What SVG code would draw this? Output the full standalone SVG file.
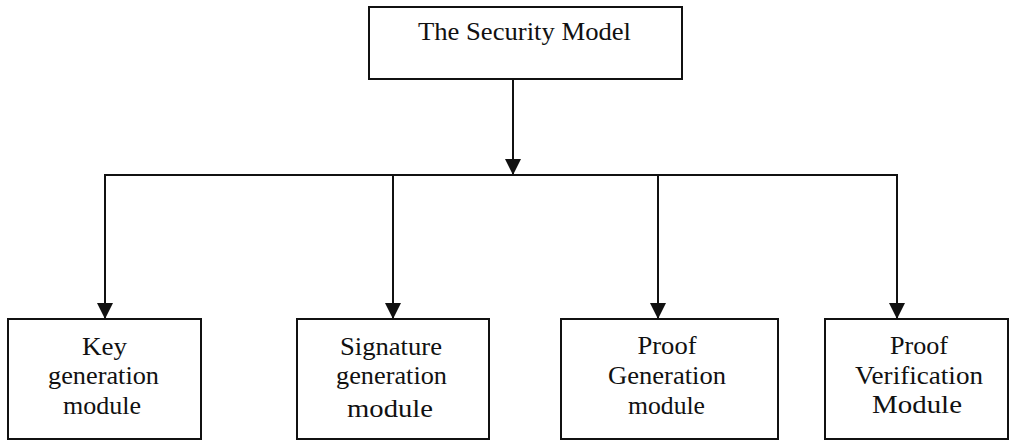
<svg xmlns="http://www.w3.org/2000/svg" width="1009" height="441" viewBox="0 0 1009 441">
<style>
.box{fill:#fff;stroke:#111;stroke-width:2}
.t{font-size:26px;fill:#111;text-anchor:middle}
.c{stroke:#111;stroke-width:2;fill:none}
</style>
<defs>
<marker id="ah" markerUnits="userSpaceOnUse" markerWidth="16" markerHeight="16" viewBox="0 0 16 16" refX="16" refY="8" orient="auto">
<path d="M0,0 L16,8 L0,16 z" fill="#111"/>
</marker>
</defs>
<rect width="1009" height="441" fill="#fff"/>
<g id="connectors">
<line class="c" x1="513" y1="79" x2="513" y2="175" marker-end="url(#ah)"/>
<line class="c" x1="104" y1="175" x2="898" y2="175"/>
<line class="c" x1="105" y1="175" x2="105" y2="319" marker-end="url(#ah)"/>
<line class="c" x1="393" y1="175" x2="393" y2="319" marker-end="url(#ah)"/>
<line class="c" x1="658" y1="175" x2="658" y2="319" marker-end="url(#ah)"/>
<line class="c" x1="897" y1="175" x2="897" y2="319" marker-end="url(#ah)"/>
</g>
<g font-family="Liberation Serif, DejaVu Serif, serif">
<g id="security-model">
<rect class="box" x="369" y="7" width="313" height="72"/>
<text class="t" x="524.5" y="40" textLength="213" lengthAdjust="spacingAndGlyphs">The Security Model</text>
</g>
<g id="key-generation">
<rect class="box" x="8" y="319" width="193" height="120"/>
<text class="t" x="104.5" y="355" textLength="45" lengthAdjust="spacingAndGlyphs">Key</text>
<text class="t" x="103.5" y="384" textLength="111" lengthAdjust="spacingAndGlyphs">generation</text>
<text class="t" x="102" y="414" textLength="78" lengthAdjust="spacingAndGlyphs">module</text>
</g>
<g id="signature-generation">
<rect class="box" x="297" y="319" width="192" height="120"/>
<text class="t" x="391" y="355" textLength="102" lengthAdjust="spacingAndGlyphs">Signature</text>
<text class="t" x="391.5" y="384" textLength="111" lengthAdjust="spacingAndGlyphs">generation</text>
<text class="t" x="390" y="417" font-size="28" textLength="86" lengthAdjust="spacingAndGlyphs">module</text>
</g>
<g id="proof-generation">
<rect class="box" x="561" y="319" width="217" height="120"/>
<text class="t" x="667" y="354" textLength="59" lengthAdjust="spacingAndGlyphs">Proof</text>
<text class="t" x="667" y="384" textLength="118" lengthAdjust="spacingAndGlyphs">Generation</text>
<text class="t" x="666.5" y="414" textLength="77" lengthAdjust="spacingAndGlyphs">module</text>
</g>
<g id="proof-verification">
<rect class="box" x="825" y="319" width="183" height="120"/>
<text class="t" x="919" y="354" textLength="58" lengthAdjust="spacingAndGlyphs">Proof</text>
<text class="t" x="919" y="384" textLength="128" lengthAdjust="spacingAndGlyphs">Verification</text>
<text class="t" x="917" y="413" textLength="90" lengthAdjust="spacingAndGlyphs">Module</text>
</g>
</g>
</svg>
